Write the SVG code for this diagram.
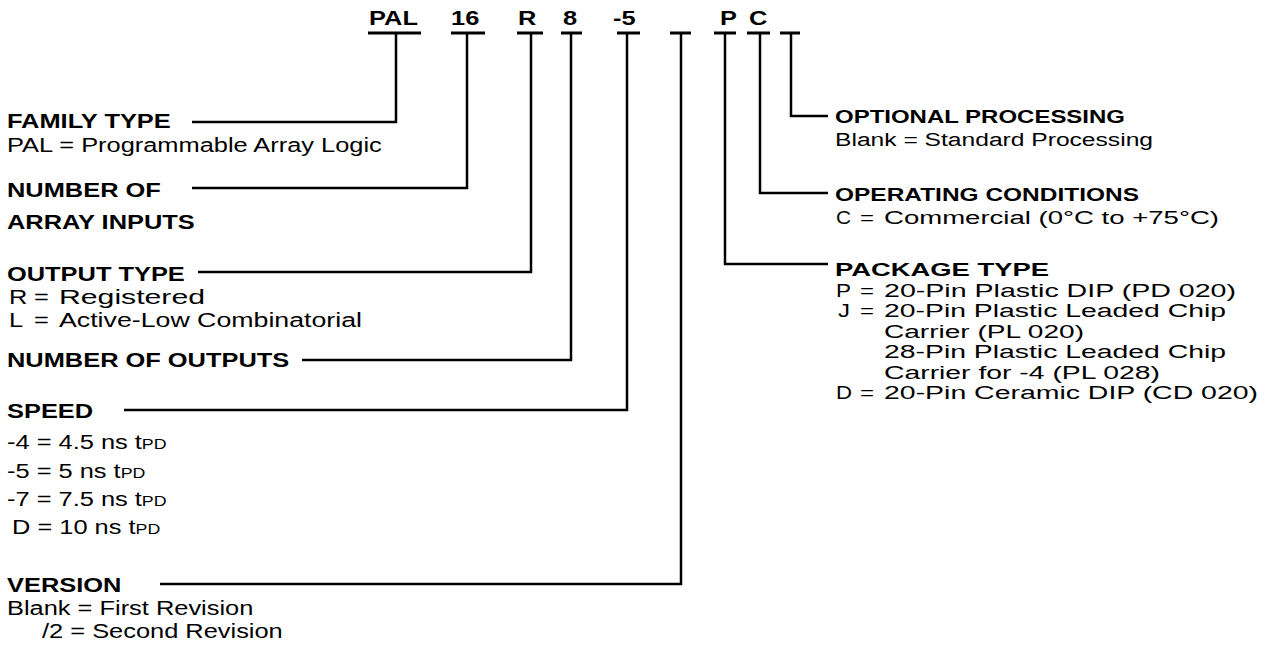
<svg xmlns="http://www.w3.org/2000/svg" width="1276" height="654" viewBox="0 0 1276 654">
<style>
.b{font-family:"Liberation Sans",Arial,Helvetica,sans-serif;font-weight:bold;font-size:20px;fill:#000}
.r{font-family:"Liberation Sans",Arial,Helvetica,sans-serif;font-size:20px;fill:#000}
.rb{font-family:"Liberation Sans",Arial,Helvetica,sans-serif;font-weight:bold;font-size:19px;fill:#000}
.rr{font-family:"Liberation Sans",Arial,Helvetica,sans-serif;font-size:18px;fill:#000}
.s{font-size:14px}
.ln{fill:none;stroke:#000;stroke-width:2.5;stroke-linejoin:miter}
.bar{fill:none;stroke:#000;stroke-width:3}
</style>
<rect width="1276" height="654" fill="#fff"/>
<g id="code">
<text class="b" transform="translate(369,25) scale(1.27,1)">PAL</text>
<text class="b" transform="translate(451,25) scale(1.27,1)">16</text>
<text class="b" transform="translate(518,25) scale(1.27,1)">R</text>
<text class="b" transform="translate(563,25) scale(1.27,1)">8</text>
<text class="b" transform="translate(613,25) scale(1.27,1)">-5</text>
<text class="b" transform="translate(720,25) scale(1.27,1)">P</text>
<text class="b" transform="translate(749,25) scale(1.27,1)">C</text>
</g>
<g id="connectors">
<path class="bar" d="M368 33H421M451 33H485M517 33H543M561 33H582M617 33H640M670 33H691M714 33H736M747 33H770M780 33H800"/>
<path class="ln" d="M396 33V122H192"/>
<path class="ln" d="M467 33V188H192"/>
<path class="ln" d="M531 33V272H198"/>
<path class="ln" d="M571 33V360H302"/>
<path class="ln" d="M627 33V410H124"/>
<path class="ln" d="M681 33V584H160"/>
<path class="ln" d="M791 33V116H828"/>
<path class="ln" d="M760 33V193H828"/>
<path class="ln" d="M725 33V264H828"/>
</g>
<g id="family-type">
<text class="b" transform="translate(7,128) scale(1.27,1)">FAMILY TYPE</text>
<text class="r" transform="translate(7,152) scale(1.27,1)">PAL = Programmable Array Logic</text>
</g>
<g id="array-inputs">
<text class="b" transform="translate(7,197) scale(1.27,1)">NUMBER OF</text>
<text class="b" transform="translate(7,229) scale(1.27,1)">ARRAY INPUTS</text>
</g>
<g id="output-type">
<text class="b" transform="translate(7,281) scale(1.27,1)">OUTPUT TYPE</text>
<text class="r" transform="translate(9,304) scale(1.27,1)">R</text>
<text class="r" transform="translate(34,304) scale(1.27,1)">=</text>
<text class="r" x="59" y="304" textLength="146" lengthAdjust="spacingAndGlyphs">Registered</text>
<text class="r" transform="translate(9,327) scale(1.27,1)">L</text>
<text class="r" transform="translate(34,327) scale(1.27,1)">=</text>
<text class="r" x="59" y="327" textLength="303" lengthAdjust="spacingAndGlyphs">Active-Low Combinatorial</text>
</g>
<g id="outputs">
<text class="b" transform="translate(7,367) scale(1.27,1)">NUMBER OF OUTPUTS</text>
</g>
<g id="speed">
<text class="b" transform="translate(7,418) scale(1.27,1)">SPEED</text>
<text class="r" transform="translate(7,449) scale(1.27,1)">-4 = 4.5 ns t<tspan class="s">PD</tspan></text>
<text class="r" transform="translate(7,478) scale(1.27,1)">-5 = 5 ns t<tspan class="s">PD</tspan></text>
<text class="r" transform="translate(7,506) scale(1.27,1)">-7 = 7.5 ns t<tspan class="s">PD</tspan></text>
<text class="r" transform="translate(12,534) scale(1.27,1)">D = 10 ns t<tspan class="s">PD</tspan></text>
</g>
<g id="version">
<text class="b" transform="translate(7,592) scale(1.27,1)">VERSION</text>
<text class="r" transform="translate(7,615) scale(1.27,1)">Blank = First Revision</text>
<text class="r" transform="translate(42,638) scale(1.27,1)">/2 = Second Revision</text>
</g>
<g id="optional-processing">
<text class="rb" x="835" y="123" textLength="290" lengthAdjust="spacingAndGlyphs">OPTIONAL PROCESSING</text>
<text class="rr" x="835" y="146" textLength="318" lengthAdjust="spacingAndGlyphs">Blank = Standard Processing</text>
</g>
<g id="operating-conditions">
<text class="rb" x="835" y="201" textLength="304" lengthAdjust="spacingAndGlyphs">OPERATING CONDITIONS</text>
<text class="rr" x="836" y="224" textLength="15" lengthAdjust="spacingAndGlyphs">C</text>
<text class="rr" x="860" y="224" textLength="14" lengthAdjust="spacingAndGlyphs">=</text>
<text class="rr" x="884" y="224" textLength="335" lengthAdjust="spacingAndGlyphs">Commercial (0°C to +75°C)</text>
</g>
<g id="package-type">
<text class="rb" x="835" y="276" textLength="214" lengthAdjust="spacingAndGlyphs">PACKAGE TYPE</text>
<text class="rr" x="836" y="297" textLength="15" lengthAdjust="spacingAndGlyphs">P</text>
<text class="rr" x="860" y="297" textLength="14" lengthAdjust="spacingAndGlyphs">=</text>
<text class="rr" x="884" y="297" textLength="352" lengthAdjust="spacingAndGlyphs">20-Pin Plastic DIP (PD 020)</text>
<text class="rr" x="838" y="317.4" textLength="12" lengthAdjust="spacingAndGlyphs">J</text>
<text class="rr" x="860" y="317.4" textLength="14" lengthAdjust="spacingAndGlyphs">=</text>
<text class="rr" x="884" y="317.4" textLength="342" lengthAdjust="spacingAndGlyphs">20-Pin Plastic Leaded Chip</text>
<text class="rr" x="884" y="337.8" textLength="200" lengthAdjust="spacingAndGlyphs">Carrier (PL 020)</text>
<text class="rr" x="884" y="358.2" textLength="342" lengthAdjust="spacingAndGlyphs">28-Pin Plastic Leaded Chip</text>
<text class="rr" x="884" y="378.6" textLength="276" lengthAdjust="spacingAndGlyphs">Carrier for -4 (PL 028)</text>
<text class="rr" x="836" y="399" textLength="16" lengthAdjust="spacingAndGlyphs">D</text>
<text class="rr" x="860" y="399" textLength="14" lengthAdjust="spacingAndGlyphs">=</text>
<text class="rr" x="884" y="399" textLength="374" lengthAdjust="spacingAndGlyphs">20-Pin Ceramic DIP (CD 020)</text>
</g>
</svg>
